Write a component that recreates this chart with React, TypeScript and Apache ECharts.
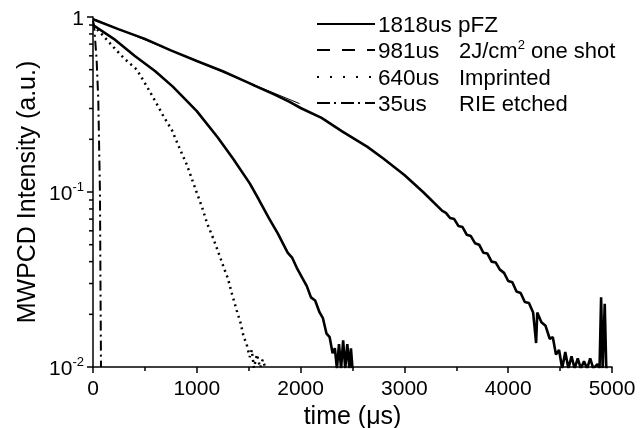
import React, { useEffect, useRef } from "react";
import * as echarts from "echarts";

// ---- data ----
const pfzData: [number, number][] = [
  [0, 0.97], [250, 0.85], [500, 0.75], [750, 0.645], [1000, 0.56], [1250, 0.49], [1500, 0.42],
  [1750, 0.36], [1894, 0.327], [2000, 0.302], [2202, 0.265], [2400, 0.222], [2644, 0.181],
  [2800, 0.155], [3000, 0.125], [3180, 0.1], [3365, 0.078], [3400, 0.076], [3440, 0.071],
  [3480, 0.07], [3520, 0.064], [3560, 0.063], [3600, 0.057], [3640, 0.056], [3680, 0.051],
  [3720, 0.05], [3760, 0.045], [3800, 0.0445], [3840, 0.04], [3880, 0.0395], [3920, 0.036],
  [3960, 0.0345], [4000, 0.031], [4040, 0.0305], [4080, 0.027], [4120, 0.0265], [4160, 0.0235],
  [4200, 0.0232], [4240, 0.0205], [4269, 0.0137], [4280, 0.0205], [4320, 0.018], [4360, 0.0172],
  [4400, 0.0145], [4430, 0.0148], [4460, 0.0118], [4490, 0.0125], [4520, 0.0098], [4550, 0.0122],
  [4580, 0.0098], [4610, 0.0115], [4640, 0.0098], [4670, 0.0112], [4700, 0.0098], [4730, 0.0108],
  [4760, 0.0098], [4790, 0.0112], [4820, 0.0098], [4860, 0.0104], [4880, 0.0098],
  [4895, 0.025], [4910, 0.0098], [4930, 0.023], [4945, 0.0098], [4960, 0.0098],
];
const pfzFit: [number, number][] = [[0, 0.98], [1990, 0.32]];
const oneShotData: [number, number][] = [
  [0, 0.9], [200, 0.75], [400, 0.6], [600, 0.49], [769, 0.4], [1000, 0.29], [1202, 0.205],
  [1350, 0.155], [1510, 0.112], [1600, 0.09], [1700, 0.07], [1780, 0.058], [1875, 0.045],
  [1920, 0.042], [1962, 0.037], [2020, 0.032], [2060, 0.029], [2100, 0.025], [2140, 0.024],
  [2183, 0.0205], [2215, 0.019], [2250, 0.0155], [2280, 0.0148], [2308, 0.012], [2330, 0.0128],
  [2350, 0.0098], [2370, 0.0135], [2390, 0.0098], [2410, 0.0142], [2430, 0.0098], [2450, 0.0135],
  [2470, 0.0098], [2485, 0.0128], [2500, 0.0098],
];
const imprintedData: [number, number][] = [
  [0, 0.9], [100, 0.78], [200, 0.67], [300, 0.58], [423, 0.5], [520, 0.4], [600, 0.33],
  [680, 0.27], [760, 0.226], [830, 0.18], [900, 0.145], [950, 0.12], [1000, 0.099],
  [1050, 0.082], [1100, 0.066], [1160, 0.054], [1221, 0.043], [1260, 0.037], [1300, 0.032],
  [1340, 0.026], [1385, 0.021], [1420, 0.018], [1450, 0.015], [1480, 0.0135], [1510, 0.0114],
  [1530, 0.0125], [1550, 0.0099], [1580, 0.0118], [1610, 0.0099], [1635, 0.011], [1660, 0.0099],
];
const rieData: [number, number][] = [
  [0, 0.95], [10, 0.9], [35, 0.57], [51, 0.335], [67, 0.1], [72, 0.03], [77, 0.01],
];
const seriesNames = ["1818us", "981us", "640us", "35us"];
const seriesDescr = ["pFZ", "2J/cm{sup|2} one shot", "Imprinted", "RIE etched"];
const xTicks = { min: 0, max: 5000, interval: 1000 };
const yTicks = { min: 0.01, max: 1 };
const yMinorTicks = [0.02, 0.03, 0.04, 0.05, 0.06, 0.07, 0.08, 0.09, 0.2, 0.3, 0.4, 0.5, 0.6, 0.7, 0.8, 0.9];

const FONT = "'Liberation Sans', Arial, sans-serif";

export default function App() {
  const ref = useRef<HTMLDivElement>(null);
  useEffect(() => {
    if (!ref.current) return;
    const chart = echarts.init(ref.current, undefined, { renderer: "svg" });
    const legendDashes: any[] = [null, [13, 12], [2, 11], [13, 4, 2, 5]];
    const rowY = [24, 50, 77, 103];
    const legendEls: any[] = [];
    rowY.forEach((y, i) => {
      legendEls.push({
        type: "line",
        shape: { x1: 317, y1: y, x2: 375, y2: y },
        style: { stroke: "#000", lineWidth: 2, lineDash: legendDashes[i] || undefined },
      });
      legendEls.push({
        type: "text",
        x: 378,
        y,
        style: { text: seriesNames[i] + (i === 0 ? " " + seriesDescr[0] : ""), fill: "#000", font: `22.5px ${FONT}`, verticalAlign: "middle" },
      });
      if (i > 0) {
        legendEls.push({
          type: "text",
          x: 459,
          y,
          style: {
            text: seriesDescr[i],
            fill: "#000",
            fontSize: 22,
            fontFamily: FONT,
            verticalAlign: "middle",
            rich: { sup: { fontSize: 13, fontFamily: FONT, padding: [0, 0, 12, 0] } },
          },
        });
      }
    });

    const lineCommon = { type: "line", showSymbol: false, symbol: "none", clip: true, silent: true };
    chart.setOption({
      animation: false,
      textStyle: { fontFamily: FONT },
      grid: { left: 93, right: 29, top: 17, bottom: 61, containLabel: false, outerBoundsMode: "none" },
      xAxis: {
        type: "value",
        min: xTicks.min,
        max: xTicks.max,
        interval: xTicks.interval,
        splitLine: { show: false },
        axisLine: { show: true, onZero: false, lineStyle: { color: "#000", width: 1.5 } },
        axisTick: { show: true, inside: false, length: 6, lineStyle: { color: "#000", width: 1.5 } },
        minorTick: { show: true, splitNumber: 2, length: 4, lineStyle: { color: "#000", width: 1.5 } },
        axisLabel: { color: "#000", fontSize: 21, margin: 10, fontFamily: FONT, formatter: (v: number) => String(v) },
        name: "time (μs)",
        nameLocation: "middle",
        nameGap: 25,
        nameTextStyle: { color: "#000", fontSize: 25, fontFamily: FONT },
      },
      yAxis: {
        type: "log",
        logBase: 10,
        min: yTicks.min,
        max: yTicks.max,
        splitLine: { show: false },
        axisLine: { show: true, lineStyle: { color: "#000", width: 1.5 } },
        axisTick: { show: true, inside: false, length: 6, lineStyle: { color: "#000", width: 1.5 } },
        minorTick: { show: false },
        axisLabel: {
          color: "#000",
          margin: 9,
          fontFamily: FONT,
          formatter: (v: number) => {
            const e = Math.round(Math.log10(v));
            if (e === 0) return "{b|1}";
            return `{b|10}{s|${e}}`;
          },
          rich: {
            b: { fontSize: 21, fontFamily: FONT, color: "#000" },
            s: { fontSize: 13, fontFamily: FONT, color: "#000", padding: [0, 0, 12, 0] },
          },
        },
        name: "MWPCD Intensity (a.u.)",
        nameLocation: "middle",
        nameGap: 41,
        nameTextStyle: { color: "#000", fontSize: 25, fontFamily: FONT },
      },
      graphic: legendEls,
      series: [
        { ...lineCommon, name: "1818us pFZ", data: pfzData, lineStyle: { color: "#000", width: 2.6 } },
        { ...lineCommon, name: "fit", data: pfzFit, lineStyle: { color: "#000", width: 1 } },
        { ...lineCommon, name: "981us", data: oneShotData, lineStyle: { color: "#000", width: 2.6 } },
        { ...lineCommon, name: "640us", data: imprintedData, lineStyle: { color: "#000", width: 2.5, type: [2, 4] } },
        { ...lineCommon, name: "35us", data: rieData, lineStyle: { color: "#000", width: 2, type: [10, 4, 2, 4] } },
        {
          type: "custom",
          name: "yMinor",
          silent: true,
          clip: false,
          data: yMinorTicks.map((v) => [0, v]),
          encode: { x: 0, y: 1 },
          renderItem: (_params: any, api: any) => {
            const p = api.coord([api.value(0), api.value(1)]);
            return {
              type: "line",
              shape: { x1: p[0] - 4, y1: p[1], x2: p[0], y2: p[1] },
              style: { stroke: "#000", lineWidth: 1.5 },
            };
          },
        },
      ],
    });
    return () => chart.dispose();
  }, []);
  return <div ref={ref} style={{ position: "fixed", left: 0, top: 0, width: 641, height: 428 }} />;
}
